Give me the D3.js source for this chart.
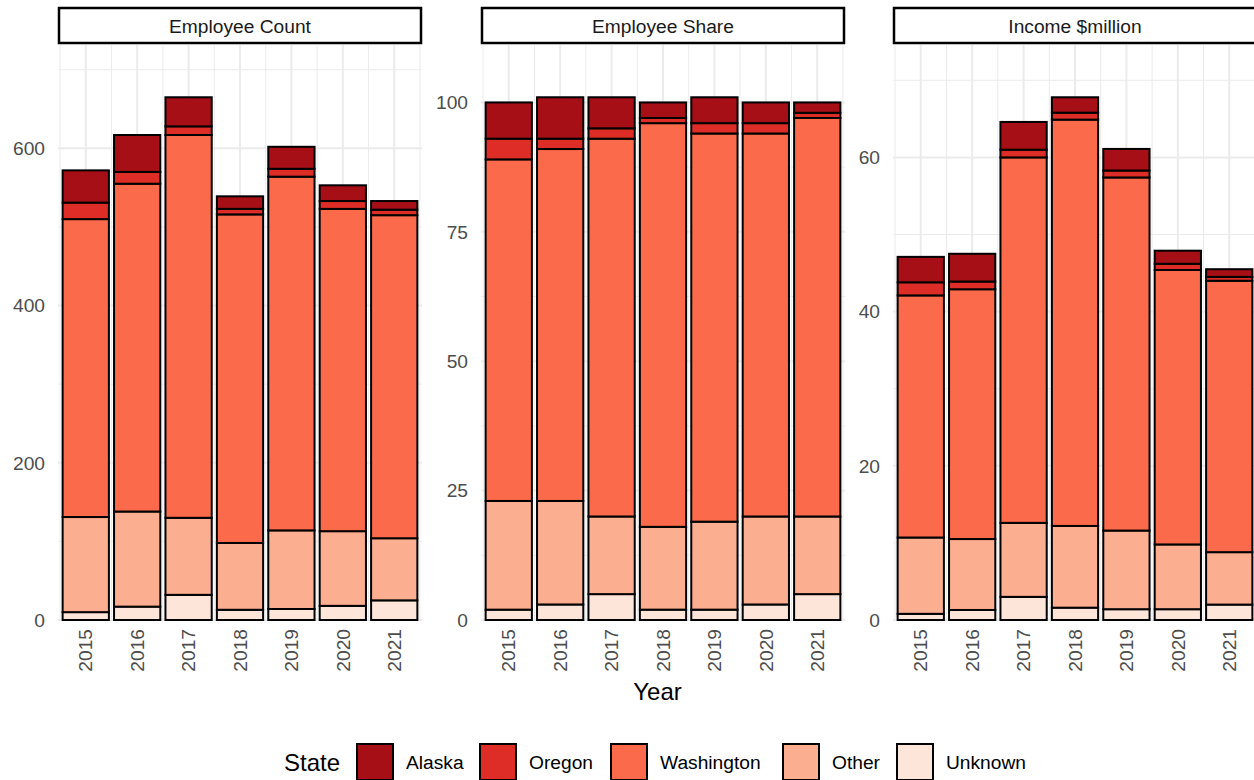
<!DOCTYPE html>
<html><head><meta charset="utf-8">
<script src="https://cdn.jsdelivr.net/npm/d3@7"></script>
<style>body{margin:0;background:#fff}text{font-family:"Liberation Sans",Arial,sans-serif}</style>
</head><body>
<svg id="chart" width="1254" height="780"></svg>
<script>
const years = [2015, 2016, 2017, 2018, 2019, 2020, 2021];
const states = ["Alaska", "Oregon", "Washington", "Other", "Unknown"];
const stateColors = ["#A50F15", "#DE2D26", "#FB6A4A", "#FCAE91", "#FEE5D9"];
const panelTitles = ["Employee Count", "Employee Share", "Income $million"];

// Employee Count
const countAlaska     = [41, 47, 37, 16, 28, 20, 11];
const countOregon     = [21, 15, 11, 7, 10, 10, 7];
const countWashington = [379, 417, 487, 418, 450, 410, 411];
const countOther      = [121, 121, 98, 85, 100, 95, 79];
const countUnknown    = [10, 17, 32, 13, 14, 18, 25];
// Employee Share
const shareAlaska     = [7, 8, 6, 3, 5, 4, 2];
const shareOregon     = [4, 2, 2, 1, 2, 2, 1];
const shareWashington = [66, 68, 73, 78, 75, 74, 77];
const shareOther      = [21, 20, 15, 16, 17, 17, 15];
const shareUnknown    = [2, 3, 5, 2, 2, 3, 5];
// Income $million
const incAlaska     = [3.3, 3.6, 3.6, 2.0, 2.8, 1.7, 1.0];
const incOregon     = [1.7, 1.0, 1.0, 0.9, 0.9, 0.8, 0.5];
const incWashington = [31.4, 32.4, 47.4, 52.7, 45.8, 35.6, 35.2];
const incOther      = [9.9, 9.2, 9.6, 10.6, 10.2, 8.4, 6.8];
const incUnknown    = [0.8, 1.3, 3.0, 1.6, 1.4, 1.4, 2.0];

const yTicks1 = [0, 200, 400, 600];
const yTicks2 = [0, 25, 50, 75, 100];
const yTicks3 = [0, 20, 40, 60];

function build(a, o, w, ot, u) {
  return years.map((y, i) => ({year: y, Alaska: a[i], Oregon: o[i], Washington: w[i], Other: ot[i], Unknown: u[i]}));
}
const panels = [
  {title: panelTitles[0], data: build(countAlaska, countOregon, countWashington, countOther, countUnknown), ticks: yTicks1, step: 100, x0: 58, x1: 422},
  {title: panelTitles[1], data: build(shareAlaska, shareOregon, shareWashington, shareOther, shareUnknown), ticks: yTicks2, step: 12.5, x0: 481, x1: 845},
  {title: panelTitles[2], data: build(incAlaska, incOregon, incWashington, incOther, incUnknown), ticks: yTicks3, step: 10, x0: 893, x1: 1257}
];

const svg = d3.select("#chart");
const panelTop = 45, panelBottom = 620;
const color = d3.scaleOrdinal().domain(states).range(stateColors);
const stackOrder = ["Unknown", "Other", "Washington", "Oregon", "Alaska"];

panels.forEach(p => {
  const g = svg.append("g");
  const x = d3.scaleLinear().domain([2014.46, 2021.54]).range([p.x0, p.x1]);
  const totals = p.data.map(d => states.reduce((s, k) => s + d[k], 0));
  const ymax = d3.max(totals) * 1.1;
  const y = d3.scaleLinear().domain([0, ymax]).range([panelBottom, panelTop]);
  const grid = g.append("g");
  const minors = [];
  for (let v = 0; v <= ymax; v += p.step) { if (!p.ticks.some(t => Math.abs(t - v) < 1e-9)) minors.push(v); }
  grid.selectAll(".ymin").data(minors).join("line")
    .attr("x1", p.x0).attr("x2", p.x1).attr("y1", d => y(d)).attr("y2", d => y(d))
    .attr("stroke", "#ebebeb").attr("stroke-width", 1);
  const minorX = years.map(v => v - 0.5).concat([2021.5]);
  grid.selectAll(".xmin").data(minorX).join("line")
    .attr("x1", d => x(d)).attr("x2", d => x(d)).attr("y1", panelTop).attr("y2", panelBottom)
    .attr("stroke", "#ebebeb").attr("stroke-width", 1);
  grid.selectAll(".ymaj").data(p.ticks).join("line")
    .attr("x1", p.x0).attr("x2", p.x1).attr("y1", d => y(d)).attr("y2", d => y(d))
    .attr("stroke", "#ebebeb").attr("stroke-width", 2);
  grid.selectAll(".xmaj").data(years).join("line")
    .attr("x1", d => x(d)).attr("x2", d => x(d)).attr("y1", panelTop).attr("y2", panelBottom)
    .attr("stroke", "#ebebeb").attr("stroke-width", 2);

  // bars
  const series = d3.stack().keys(stackOrder)(p.data);
  const bw = (x(1) - x(0)) * 0.9;
  g.selectAll(".s").data(series).join("g")
    .attr("fill", d => color(d.key))
    .selectAll("rect").data(d => d).join("rect")
    .attr("x", d => x(d.data.year) - bw / 2)
    .attr("width", bw)
    .attr("y", d => y(d[1]))
    .attr("height", d => y(d[0]) - y(d[1]))
    .attr("stroke", "#000").attr("stroke-width", 2);

  // y axis labels
  g.selectAll(".yl").data(p.ticks).join("text")
    .attr("x", p.x0 - 13).attr("y", d => y(d)).attr("dy", "0.35em")
    .attr("text-anchor", "end").attr("font-size", 19.2).attr("fill", "#4d4d4d")
    .text(d => d);
  // x axis labels
  g.selectAll(".xl").data(years).join("text")
    .attr("transform", d => `translate(${x(d)},${panelBottom + 9}) rotate(-90)`)
    .attr("dy", "0.35em").attr("text-anchor", "end")
    .attr("font-size", 19.2).attr("fill", "#4d4d4d")
    .text(d => d);
  // strip
  g.append("rect").attr("x", p.x0 + 1).attr("y", 8).attr("width", p.x1 - p.x0 - 2).attr("height", 35)
    .attr("fill", "#fff").attr("stroke", "#000").attr("stroke-width", 2.5);
  g.append("text").attr("x", (p.x0 + p.x1) / 2).attr("y", 26).attr("dy", "0.35em")
    .attr("text-anchor", "middle").attr("font-size", 19.2).attr("fill", "#1a1a1a")
    .text(p.title);
});

// x title
svg.append("text").attr("x", 657.5).attr("y", 700).attr("text-anchor", "middle")
  .attr("font-size", 24).attr("fill", "#000").text("Year");

// legend
const lg = svg.append("g");
lg.append("text").attr("x", 284).attr("y", 771).attr("font-size", 24).attr("fill", "#000").text("State");
const keyX = [357, 480, 611, 783, 897];
states.forEach((s, i) => {
  lg.append("rect").attr("x", keyX[i]).attr("y", 744).attr("width", 36).attr("height", 36)
    .attr("fill", color(s)).attr("stroke", "#000").attr("stroke-width", 2);
  lg.append("text").attr("x", keyX[i] + 49).attr("y", 769).attr("font-size", 19.2).attr("fill", "#000").text(s);
});
</script>
</body></html>
